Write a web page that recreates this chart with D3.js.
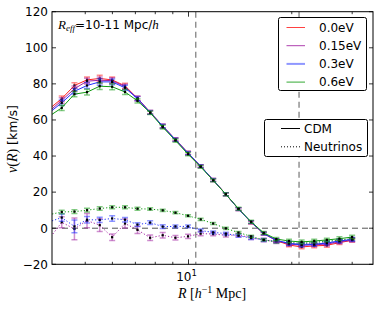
<!DOCTYPE html>
<html><head><meta charset="utf-8">
<script src="https://cdn.jsdelivr.net/npm/d3@7"></script>
<style>body{margin:0;background:#fff}svg{display:block}</style>
</head><body>
<svg id="c" width="380" height="310"></svg>
<script>
// ---------- data ----------
const radii = [3.92, 4.27, 4.65, 5.06, 5.51, 5.99, 6.53, 7.10, 7.73, 8.41, 9.16, 9.97, 10.85, 11.80, 12.85, 13.99, 15.22, 16.57, 18.03, 19.63, 21.37, 23.25, 25.31, 27.54, 29.99];
const massLabels = ["0.0eV", "0.15eV", "0.3eV", "0.6eV"];
const cdm00  = [66.0, 71.8, 79.1, 82.2, 83.0, 82.2, 78.9, 72.0, 64.3, 56.6, 49.2, 41.7, 34.4, 26.7, 18.8, 10.6, 3.2, -3.0, -6.8, -9.3, -10.4, -9.8, -9.5, -8.0, -6.7];
const cdm015 = [64.7, 70.8, 77.3, 81.5, 82.0, 81.8, 78.4, 71.9, 64.2, 56.6, 49.1, 41.6, 34.4, 26.7, 18.8, 10.6, 3.3, -3.0, -6.7, -8.8, -9.4, -9.2, -8.8, -7.6, -6.6];
const cdm03  = [63.9, 69.5, 75.9, 79.1, 81.1, 81.1, 77.8, 71.8, 64.2, 56.6, 49.1, 41.6, 34.4, 26.7, 18.8, 10.6, 3.4, -3.0, -6.7, -8.4, -9.3, -9.0, -8.2, -7.1, -6.2];
const cdm06  = [62.0, 66.7, 74.3, 75.4, 78.7, 78.4, 75.5, 70.6, 64.0, 56.0, 48.6, 41.0, 34.0, 26.5, 18.8, 10.8, 3.6, -2.6, -6.0, -7.1, -7.6, -7.1, -6.5, -5.8, -4.9];
const errCdm = [1.5, 1.5, 1.5, 1.6, 1.8, 1.6, 1.4, 1.2, 1.0, 1.0, 0.9, 0.9, 0.8, 0.8, 0.8, 0.8, 0.8, 0.8, 0.9, 1.0, 1.0, 1.0, 1.0, 1.0, 1.0];
const nu015 = [-6.0, 3.3, -0.4, 4.2, 1.7, -5.0, 2.6, -0.9, -5.3, -3.9, -5.3, -4.5, -3.0, -3.2, -3.9, -3.8, -5.2, -6.5, -7.5, -8.4, -8.9, -8.7, -8.3, -7.4, -6.4];
const nu03  = [3.5, 5.9, 1.0, 4.7, 4.6, 5.4, 4.7, 2.0, 3.1, 0.9, 1.0, 1.0, -1.3, -2.3, -3.0, -4.2, -5.4, -6.5, -7.3, -8.2, -8.7, -8.5, -8.0, -7.0, -6.2];
const nu06  = [7.5, 9.0, 9.2, 10.0, 10.9, 11.6, 11.6, 10.8, 10.6, 9.9, 8.6, 6.9, 4.9, 2.6, -0.1, -2.4, -4.5, -6.5, -7.6, -8.0, -8.3, -7.8, -7.2, -6.5, -5.8];
const errNu015 = [3.0, 3.0, 6.0, 4.0, 3.5, 1.8, 2.5, 2.0, 1.5, 1.5, 1.2, 1.2, 1.2, 1.0, 1.0, 1.0, 1.0, 1.0, 1.0, 1.0, 1.0, 1.0, 1.0, 1.0, 1.0];
const errNu03  = [2.0, 2.0, 3.5, 1.8, 1.5, 1.5, 1.3, 1.0, 1.0, 1.0, 0.8, 0.8, 0.8, 0.8, 0.8, 0.8, 0.8, 0.8, 0.8, 0.8, 0.8, 0.8, 0.8, 0.8, 0.8];
const errNu06  = [1.0, 1.0, 1.0, 1.0, 1.0, 0.8, 0.8, 0.8, 0.7, 0.6, 0.6, 0.6, 0.6, 0.6, 0.6, 0.6, 0.6, 0.6, 0.6, 0.6, 0.6, 0.6, 0.6, 0.6, 0.6];
const yTicks = [-20, 0, 20, 40, 60, 80, 100, 120];
const xMinorTicks = [5, 6, 7, 8, 9, 20, 30];
const xMajorTicks = [10];
const vLines = [10.5, 21];

// ---------- layout ----------
const svg = d3.select("#c");
const L = 52, R = 373, T = 11.7, B = 264.3;
const x = d3.scaleLog().domain([4.0, 34.5]).range([L, R]);
const y = d3.scaleLinear().domain([-20, 120]).range([B, T]);
const colors = ["#ff2020", "#a020a0", "#2030ff", "#109a10"];
const cdmSeries = [cdm00, cdm015, cdm03, cdm06];
const nuSeries = [null, nu015, nu03, nu06];
const nuErr = [null, errNu015, errNu03, errNu06];

svg.append("defs").append("clipPath").attr("id", "clip")
  .append("rect").attr("x", L).attr("y", T).attr("width", R - L).attr("height", B - T);

const g = svg.append("g").attr("clip-path", "url(#clip)");

// reference lines
g.append("line").attr("x1", L).attr("x2", R).attr("y1", y(0)).attr("y2", y(0))
  .attr("stroke", "#555").attr("stroke-width", 1).attr("stroke-dasharray", "6,4");
vLines.forEach(v => {
  g.append("line").attr("x1", x(v)).attr("x2", x(v)).attr("y1", T).attr("y2", B)
    .attr("stroke", "#777").attr("stroke-width", 1.2).attr("stroke-dasharray", "6,4");
});

const line = d3.line().x((d, i) => x(radii[i])).y(d => y(d));

function drawSeries(vals, errs, color, dashed) {
  const s = g.append("g");
  s.append("path").datum(vals).attr("d", line).attr("fill", "none")
    .attr("stroke", color).attr("stroke-width", 1)
    .attr("stroke-dasharray", dashed ? "1.2,2" : null);
  vals.forEach((v, i) => {
    const cx = x(radii[i]);
    const y1 = y(v - errs[i]), y2 = y(v + errs[i]);
    const eb = s.append("g").attr("stroke", color).attr("stroke-opacity", 0.5).attr("stroke-width", 1.5);
    eb.append("line").attr("x1", cx).attr("x2", cx).attr("y1", y1).attr("y2", y2);
    eb.append("line").attr("x1", cx - 3).attr("x2", cx + 3).attr("y1", y1).attr("y2", y1);
    eb.append("line").attr("x1", cx - 3).attr("x2", cx + 3).attr("y1", y2).attr("y2", y2);
    s.append("rect").attr("x", cx - 1.1).attr("y", y(v) - 1.1).attr("width", 2.2).attr("height", 2.2)
      .attr("fill", "#000");
  });
}

[1, 2, 3].forEach(k => drawSeries(nuSeries[k], nuErr[k], colors[k], true));
[0, 1, 2, 3].forEach(k => drawSeries(cdmSeries[k], errCdm, colors[k], false));

// frame
svg.append("rect").attr("x", L).attr("y", T).attr("width", R - L).attr("height", B - T)
  .attr("fill", "none").attr("stroke", "#000").attr("stroke-width", 1);

// ticks
const tk = svg.append("g").attr("stroke", "#000").attr("stroke-width", 0.8);
yTicks.forEach(t => {
  tk.append("line").attr("x1", L).attr("x2", L + 4).attr("y1", y(t)).attr("y2", y(t));
  tk.append("line").attr("x1", R - 4).attr("x2", R).attr("y1", y(t)).attr("y2", y(t));
});
xMinorTicks.forEach(t => {
  tk.append("line").attr("x1", x(t)).attr("x2", x(t)).attr("y1", B).attr("y2", B - 2.5);
  tk.append("line").attr("x1", x(t)).attr("x2", x(t)).attr("y1", T).attr("y2", T + 2.5);
});
xMajorTicks.forEach(t => {
  tk.append("line").attr("x1", x(t)).attr("x2", x(t)).attr("y1", B).attr("y2", B - 5);
  tk.append("line").attr("x1", x(t)).attr("x2", x(t)).attr("y1", T).attr("y2", T + 5);
});

const sans = "'DejaVu Sans', sans-serif";
const serif = "'Liberation Serif', 'DejaVu Serif', serif";

yTicks.forEach(t => {
  svg.append("text").attr("x", L - 4).attr("y", y(t) + 4.3).attr("text-anchor", "end")
    .attr("font-family", sans).attr("font-size", 12).text(t < 0 ? "\u2212" + Math.abs(t) : t);
});
xMajorTicks.forEach(t => {
  const tx = svg.append("text").attr("x", x(t) - 2).attr("y", B + 17).attr("text-anchor", "middle")
    .attr("font-family", sans).attr("font-size", 12);
  tx.append("tspan").text("10");
  tx.append("tspan").attr("dy", -5).attr("font-size", 8.5).text("1");
});

// axis labels
const xl = svg.append("text").attr("x", 212).attr("y", 298).attr("text-anchor", "middle")
  .attr("font-family", serif).attr("font-size", 14);
xl.append("tspan").attr("font-style", "italic").text("R");
xl.append("tspan").text(" [");
xl.append("tspan").attr("font-style", "italic").text("h");
xl.append("tspan").attr("dy", -5).attr("font-size", 10).text("\u22121");
xl.append("tspan").attr("dy", 5).text(" Mpc]");

const yl = svg.append("text").attr("transform", "translate(17,139) rotate(-90)")
  .attr("text-anchor", "middle").attr("font-size", 12.5);
yl.append("tspan").attr("font-family", serif).attr("font-style", "italic").attr("font-size", 14).text("v");
yl.append("tspan").attr("font-family", serif).attr("font-size", 14).text("(");
yl.append("tspan").attr("font-family", serif).attr("font-style", "italic").attr("font-size", 14).text("R");
yl.append("tspan").attr("font-family", serif).attr("font-size", 14).text(")");
yl.append("tspan").attr("font-family", sans).text(" [km/s]");

// annotation
const an = svg.append("text").attr("x", 58).attr("y", 28.5).attr("font-size", 12).attr("font-family", sans);
an.append("tspan").attr("font-family", serif).attr("font-style", "italic").attr("font-size", 13).text("R");
an.append("tspan").attr("font-family", serif).attr("font-style", "italic").attr("font-size", 9).attr("dy", 2.5).text("eff");
an.append("tspan").attr("dy", -2.5).text("=10-11 Mpc/");
an.append("tspan").attr("font-family", serif).attr("font-style", "italic").attr("font-size", 13).text("h");

// legend 1
const lg1 = svg.append("g");
lg1.append("rect").attr("x", 278.5).attr("y", 17.5).attr("width", 88).attr("height", 73).attr("rx", 2)
  .attr("fill", "#fff").attr("stroke", "#000").attr("stroke-width", 1);
massLabels.forEach((m, i) => {
  const ly = 27.5 + i * 18.2;
  lg1.append("line").attr("x1", 286.5).attr("x2", 305).attr("y1", ly).attr("y2", ly)
    .attr("stroke", colors[i]).attr("stroke-width", i === 2 ? 2 : 1).attr("stroke-opacity", i === 2 ? 0.5 : 0.85);
  lg1.append("text").attr("x", 319).attr("y", ly + 4.3).attr("font-family", sans).attr("font-size", 12).text(m);
});

// legend 2
const lg2 = svg.append("g");
lg2.append("rect").attr("x", 264.5).attr("y", 119.5).attr("width", 103).attr("height", 37).attr("rx", 2)
  .attr("fill", "#fff").attr("stroke", "#000").attr("stroke-width", 1);
[["CDM", null], ["Neutrinos", "1,2"]].forEach((d, i) => {
  const ly = 128.5 + i * 18.3;
  lg2.append("line").attr("x1", 281).attr("x2", 300).attr("y1", ly).attr("y2", ly)
    .attr("stroke", "#000").attr("stroke-width", 1).attr("stroke-dasharray", d[1]);
  lg2.append("text").attr("x", 304).attr("y", ly + 4.3).attr("font-family", sans).attr("font-size", 12).text(d[0]);
});
</script>
</body></html>
